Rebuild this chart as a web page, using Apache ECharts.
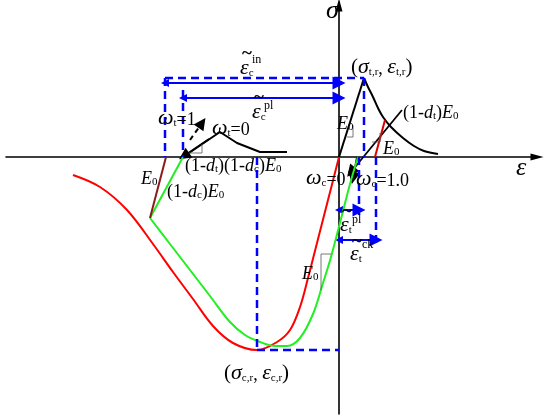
<!DOCTYPE html>
<html>
<head>
<meta charset="utf-8">
<script src="https://cdn.jsdelivr.net/npm/echarts@6/dist/echarts.min.js"></script>
<style>
  html, body { margin: 0; padding: 0; background: #fff; }
  #main { width: 550px; height: 418px; }
</style>
</head>
<body>
<div id="main"></div>
<script>
// strain / stress points (origin at the axes crossing)
var tensionRise = [[0, 0], [25, 79]];
var tensionSoft = [[25, 79], [29, 70], [34, 60], [39, 49], [44, 40], [52, 30], [64, 19], [75, 11], [85, 6], [99, 3]];
var tensionUnload = [[46, 37], [36, 0]];
var compRed = [[-266, -18], [-239, -30], [-212, -53], [-186, -87], [-166, -115], [-146, -142], [-126, -169],
  [-106, -186], [-82, -193], [-62, -185], [-49, -173], [-39, -150], [-31, -121], [-22, -86], [-11, -43], [0, 0]];
var compGreen = [[-189, -61], [-169, -87], [-149, -113], [-129, -139], [-109, -165], [-94, -178], [-79, -185],
  [-64, -189], [-52, -189], [-39, -181], [-26, -157], [-16, -126], [-8, -100], [3, -58], [11, -27], [19, 0]];
var reloadGreen = [[-189, -61], [-156, 0]];
var unloadDark = [[-189, -61], [-173, 0]];
var bumpBlack = [[-156, 0], [-119, 25], [-102, 14], [-79, 5], [-52, 5]];

// slope marks
var slopeMarks = [
  [[8, 20], [14, 20], [14, 32]],
  [[33, 15], [41, 15], [41, 24]],
  [[-8, -97], [-18, -97], [-18, -133]],
  [[-150, 4], [-137, 4], [-137, 13]]
];

// blue guides
var blueDashed = [
  [[-174, 79], [-174, 0]],
  [[-156, 67], [-156, 0]],
  [[-174, 79], [25, 79]],
  [[25, 79], [25, 0]],
  [[-82, 0], [-82, -193]],
  [[-82, -193], [0, -193]],
  [[20, 0], [20, -58]],
  [[37, 0], [37, -88]]
];
var blueArrows = [
  [[-174, 74], [0, 74]],
  [[-156, 59], [0, 59]],
  [[0, -53], [20, -53]],
  [[0, -83], [37, -83]]
];
var blackArrows = [
  [[63, 47], [12, -15]],
  [[18, 0], [14, -21]],
  [[-130, 18], [-155, 1]]
];
var dashedArrow = [[[-149, 17], [-137, 34]]];

var chart = echarts.init(document.getElementById('main'));

function curve(data, color, width, smooth) {
  return {
    type: 'line', data: data, symbol: 'none', smooth: smooth || false,
    lineStyle: { color: color, width: width }, silent: true, animation: false
  };
}

var series = [
  curve(compRed, '#ff0000', 2, 0.35),
  curve(compGreen, '#22ee22', 2, 0.35),
  curve(reloadGreen, '#22ee22', 2),
  curve(unloadDark, '#8b1a1a', 2),
  curve(tensionRise, '#000', 2),
  curve(tensionSoft, '#000', 2, 0.35),
  curve(tensionUnload, '#dd0000', 2),
  curve(bumpBlack, '#000', 2)
];
slopeMarks.forEach(function (m) {
  series.push(curve(m, '#555', 0.8));
});
blueDashed.forEach(function (d) {
  series.push({
    type: 'line', data: d, symbol: 'none', animation: false, silent: true,
    lineStyle: { color: '#0000ff', width: 2.5, type: [8, 5] }
  });
});
series.push({
  type: 'lines', coordinateSystem: 'cartesian2d', animation: false, silent: true,
  symbol: ['triangle', 'triangle'], symbolSize: [8, 13],
  lineStyle: { color: '#0000ff', width: 2, opacity: 1, curveness: 0 },
  data: blueArrows.map(function (c) { return { coords: c }; })
});
series.push({
  type: 'lines', coordinateSystem: 'cartesian2d', animation: false, silent: true,
  symbol: ['none', 'triangle'], symbolSize: [7, 12],
  lineStyle: { color: '#000', width: 1.8, opacity: 1, curveness: 0 },
  data: blackArrows.map(function (c) { return { coords: c }; })
});
series.push({
  type: 'lines', coordinateSystem: 'cartesian2d', animation: false, silent: true,
  symbol: ['none', 'triangle'], symbolSize: [7, 12],
  lineStyle: { color: '#000', width: 2, opacity: 1, curveness: 0, type: [5, 4] },
  data: dashedArrow.map(function (c) { return { coords: c }; })
});

var serif = 'Liberation Serif';
var rich = {
  n: { fontFamily: serif, fontSize: 18, lineHeight: 22, verticalAlign: 'bottom', color: '#000' },
  p: { fontFamily: serif, fontSize: 21, lineHeight: 22, verticalAlign: 'bottom', color: '#000' },
  i: { fontFamily: serif, fontSize: 18, fontStyle: 'italic', lineHeight: 22, verticalAlign: 'bottom', color: '#000' },
  g: { fontFamily: serif, fontSize: 22, fontStyle: 'italic', lineHeight: 22, verticalAlign: 'bottom', color: '#000' },
  G: { fontFamily: serif, fontSize: 26, fontStyle: 'italic', lineHeight: 26, verticalAlign: 'bottom', color: '#000' },
  s: { fontFamily: serif, fontSize: 11, lineHeight: 13, verticalAlign: 'bottom', color: '#000' }
};
function txt(x, y, text, size, weight) {
  return {
    type: 'text', x: x, y: y, z: 100, silent: true,
    style: {
      text: text, rich: rich, fontFamily: serif, fontSize: size || 18, fontWeight: weight || 'normal', fill: '#000',
      textVerticalAlign: 'middle', verticalAlign: 'middle', align: 'left'
    }
  };
}
function tilde(x, y) {
  return txt(x, y, '~', 19, 'bold');
}
var E0 = '{i|E}{s|0}';
var graphics = [
  txt(326, 11, '{G|σ}'),
  txt(516, 168, '{G|ε}'),
  // eps c in
  txt(240, 68, '{g|ε}{s|c}'), tilde(242, 54), txt(252, 60, 'in', 12),
  // eps c pl
  txt(252, 112, '{g|ε}{s|c}'), tilde(254, 98), txt(264, 106, 'pl', 12),
  txt(158, 118, '{g|ω}{s|t}{n|=1}'),
  txt(212, 128, '{g|ω}{s|t}{n|=0}'),
  txt(185, 164, '{n|(1-}{i|d}{s|t}{n|)(1-}{i|d}{s|c}{n|)}' + E0),
  txt(141, 177, E0),
  txt(167, 190, '{n|(1-}{i|d}{s|c}{n|)}' + E0),
  txt(351, 67, '{p|(}{g|σ}{s|t,r}{n|, }{g|ε}{s|t,r}{p|)}'),
  txt(403, 111, '{n|(1-}{i|d}{s|t}{n|)}' + E0),
  txt(337, 122, E0),
  txt(383, 147, E0),
  txt(306, 178, '{g|ω}{s|c}{n|=0}'),
  txt(356, 179, '{g|ω}{s|c}{n|=1.0}'),
  // eps t pl
  txt(340, 225, '{g|ε}{s|t}'), tilde(342, 212), txt(352, 220, 'pl', 12),
  // eps t ck
  txt(350, 254, '{g|ε}{s|t}'), tilde(352, 242), txt(362, 245, 'ck', 12),
  txt(302, 272, E0),
  txt(224, 373, '{p|(}{g|σ}{s|c,r}{n|, }{g|ε}{s|c,r}{p|)}')
];

var axisLine = {
  onZero: true,
  symbol: ['none', 'triangle'],
  symbolSize: [7, 13],
  lineStyle: { color: '#000', width: 1.6 }
};

chart.setOption({
  backgroundColor: '#fff',
  animation: false,
  grid: { left: 6, right: 13, top: 5, bottom: 4 },
  xAxis: {
    type: 'value', min: -333, max: 198,
    axisLine: axisLine, axisTick: { show: false }, axisLabel: { show: false }, splitLine: { show: false }
  },
  yAxis: {
    type: 'value', min: -257, max: 152,
    axisLine: axisLine, axisTick: { show: false }, axisLabel: { show: false }, splitLine: { show: false }
  },
  series: series,
  graphic: graphics
});
</script>
</body>
</html>
